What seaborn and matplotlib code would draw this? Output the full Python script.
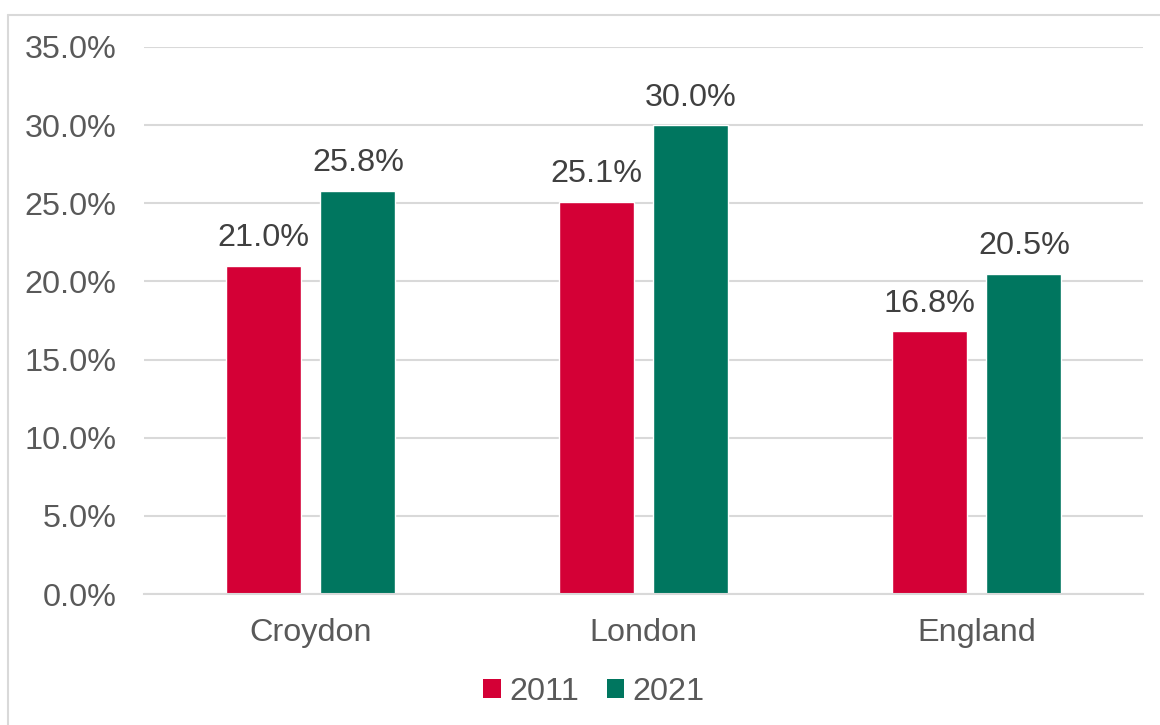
import matplotlib
matplotlib.use("Agg")
import matplotlib.pyplot as plt
from matplotlib.patches import Patch
from matplotlib.lines import Line2D
import seaborn as sns
import pandas as pd

# Share of residents (%) by area, census years 2011 and 2021
areas = ["Croydon", "London", "England"]
years = ["2011", "2021"]
values_2011 = [21.0, 25.1, 16.8]
values_2021 = [25.8, 30.0, 20.5]
y_ticks = [0, 5, 10, 15, 20, 25, 30, 35]

df = pd.DataFrame({
    "area": areas * 2,
    "year": [years[0]] * 3 + [years[1]] * 3,
    "share": [v / 100 for v in values_2011 + values_2021],
})

sns.set_theme(style="white")
plt.rcParams["font.family"] = ["Liberation Sans", "DejaVu Sans"]

palette = {"2011": "#D40036", "2021": "#00765F"}
text_col = "#595959"
label_col = "#404040"
grid_col = "#D9D9D9"
fs = 23.3

fig = plt.figure(figsize=(11.6, 7.25), dpi=100)
ax = fig.add_axes([144 / 1160, 1 - 594 / 725, (1143 - 144) / 1160, (594 - 47) / 725])

sns.barplot(data=df, x="area", y="share", hue="year", palette=palette,
            width=0.57, gap=0.21, ax=ax, legend=False, saturation=1)

ax.set_ylim(0, 0.35)
ax.set_xlim(-0.5, 2.5)
ax.set_yticks([t / 100 for t in y_ticks])
ax.set_yticklabels([f"{t:.1f}%" for t in y_ticks])
ax.yaxis.grid(True, color=grid_col, linewidth=1.5)
ax.set_axisbelow(True)
for side in ["left", "right", "top"]:
    ax.spines[side].set_visible(False)
ax.spines["bottom"].set_color(grid_col)
ax.spines["bottom"].set_linewidth(1.5)
ax.tick_params(axis="y", length=0, pad=20, labelsize=fs, labelcolor=text_col)
ax.tick_params(axis="x", length=0, pad=17, labelsize=fs, labelcolor=text_col)
ax.set_xlabel("")
ax.set_ylabel("")

for container in ax.containers:
    ax.bar_label(container, labels=[f"{b.get_height() * 100:.1f}%" for b in container],
                 padding=9, fontsize=fs, color=label_col)

handles = [Patch(facecolor=palette[y], edgecolor="none") for y in years]
fig.legend(handles, years, loc="center", bbox_to_anchor=(594 / 1160, 1 - 692 / 725),
           ncol=2, frameon=False, fontsize=fs, labelcolor=text_col,
           handlelength=0.55, handleheight=0.55, handletextpad=0.25, columnspacing=0.85)

# Outer chart frame (left and top edges)
fig.add_artist(Line2D([8 / 1160, 8 / 1160], [0, 1 - 15 / 725], transform=fig.transFigure,
                      color=grid_col, linewidth=1.5))
fig.add_artist(Line2D([8 / 1160, 1], [1 - 15 / 725, 1 - 15 / 725], transform=fig.transFigure,
                      color=grid_col, linewidth=1.5))

fig.savefig("out.png", dpi=100, facecolor="white")
